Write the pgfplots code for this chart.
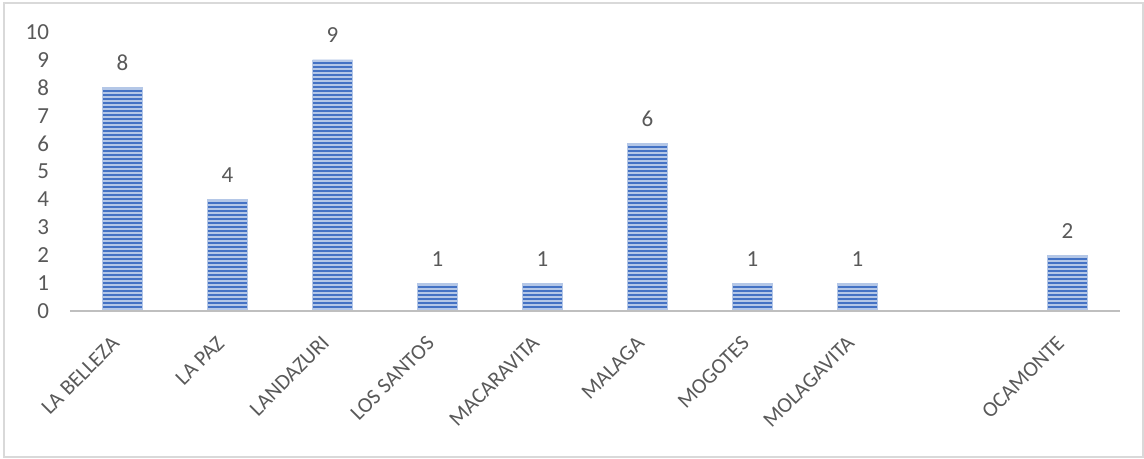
\documentclass[border=0pt]{standalone}
\usepackage{pgfplots}
\pgfplotsset{compat=1.18}
\usepackage{fontspec}
\setmainfont{Carlito}
\usetikzlibrary{patterns.meta}
\definecolor{barblue}{HTML}{4472C4}
\definecolor{barlight}{HTML}{B4C7E7}
\definecolor{axgray}{HTML}{BFBFBF}
\definecolor{txtgray}{HTML}{595959}
\definecolor{framegray}{HTML}{D9D9D9}
\begin{document}
\begin{tikzpicture}
\path[use as bounding box] (-35pt,-74pt) rectangle (537pt,155.5pt);
\draw[framegray, line width=0.6pt] (-33pt,-73pt) rectangle (536.5pt,154pt);
\begin{axis}[
  at={(26.25pt,0)}, anchor=origin,
  scale only axis,
  width=525pt, height=139.5pt,
  xmin=-0.5, xmax=9.5, ymin=0, ymax=10,
  ytick={0,1,...,10},
  xtick={0,...,9},
  xticklabels={LA BELLEZA,LA PAZ,LANDAZURI,LOS SANTOS,MACARAVITA,MALAGA,MOGOTES,MOLAGAVITA,,OCAMONTE},
  major tick length=0pt,
  axis line style={draw=none},
  tick label style={font=\fontsize{11.5}{13}\selectfont, text=txtgray},
  xticklabel style={font=\fontsize{10.8}{13}\selectfont, xshift=-1pt, yshift=-12pt, rotate=45, anchor=east},
  /pgf/number format/assume math mode=true,
  yticklabel style={xshift=-7pt},
  clip=false,
  ybar, bar width=20pt,
  nodes near coords,
  every node near coord/.append style={font=\fontsize{11.5}{13}\selectfont, text=txtgray, yshift=5pt},
]
\addplot[draw=barlight, line width=0.3pt, fill=barlight,
  postaction={pattern={Lines[distance=2pt, line width=1pt, angle=0]}, pattern color=barblue}]
  coordinates {(0,8) (1,4) (2,9) (3,1) (4,1) (5,6) (6,1) (7,1) (9,2)};
\draw[axgray, line width=1.3pt] (rel axis cs:0,0) -- (rel axis cs:1,0);
\end{axis}
\end{tikzpicture}
\end{document}
